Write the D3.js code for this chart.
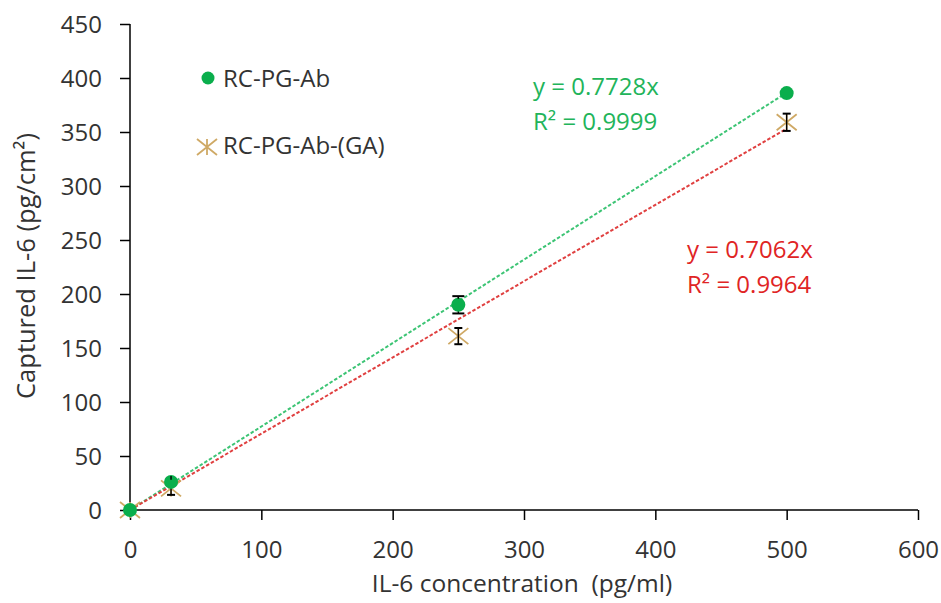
<!DOCTYPE html>
<html><head><meta charset="utf-8">
<script src="https://cdn.jsdelivr.net/npm/d3@7"></script>
<style>body{margin:0;background:#fff}svg{display:block}text{font-family:"Open Sans",sans-serif}</style>
</head><body>
<svg id="c" width="941" height="603"></svg>
<script>
const concentrations = [0, 31.25, 250, 500];
const seriesNames = ["RC-PG-Ab", "RC-PG-Ab-(GA)"];
const valuesAb = [0, 26, 190, 386];
const errorsAb = [0, 2, 8, 0];
const valuesGA = [0, 20, 161, 359];
const errorsGA = [0, 6, 7.5, 8];
const slopes = [0.7728, 0.7062];
const eqLabels = [["y = 0.7728x", "R² = 0.9999"], ["y = 0.7062x", "R² = 0.9964"]];
const xTicks = [0, 100, 200, 300, 400, 500, 600];
const yTicks = [0, 50, 100, 150, 200, 250, 300, 350, 400, 450];

const svg = d3.select("#c");
const x = d3.scaleLinear().domain([0, 600]).range([130, 918]);
const y = d3.scaleLinear().domain([0, 450]).range([510, 24]);
const textCol = "#333";

// axes
const xa = svg.append("g").attr("transform", "translate(0,510)")
  .call(d3.axisBottom(x).tickValues(xTicks).tickSize(10).tickSizeOuter(0));
const ya = svg.append("g").attr("transform", "translate(130,0)")
  .call(d3.axisLeft(y).tickValues(yTicks).tickSize(10).tickSizeOuter(0));
[xa, ya].forEach(a => {
  a.selectAll("path,line").attr("stroke", "#000").attr("stroke-width", 1.5);
  a.selectAll("text").attr("fill", textCol).style("font-size", "24px").style("font-family", '"Open Sans",sans-serif');
});
xa.selectAll(".tick text").attr("y", 48).attr("dy", null);
ya.selectAll(".tick text").attr("x", -28).attr("dy", "0.36em");
xa.select(".domain").attr("d", `M${x(0)},0H${x(600)}`);
ya.select(".domain").attr("d", `M0,${y(0)}V${y(450)}`);

svg.append("text").attr("x", 522).attr("y", 592).attr("text-anchor", "middle")
  .attr("fill", textCol).style("font-size", "24.5px").attr("xml:space", "preserve").text("IL-6 concentration  (pg/ml)");
svg.append("text").attr("transform", "translate(35,266) rotate(-90)").attr("text-anchor", "middle")
  .attr("fill", textCol).style("font-size", "25.5px").text("Captured IL-6 (pg/cm²)");

// trendlines
const trendColors = ["#3cc474", "#e04040"];
slopes.forEach((s, i) => {
  svg.append("line").attr("x1", x(0)).attr("y1", y(0)).attr("x2", x(500)).attr("y2", y(s * 500))
    .attr("stroke", trendColors[i]).attr("stroke-width", 2).attr("stroke-dasharray", "3.5,2");
});

// error bars
function errBars(vals, errs, w) {
  const g = svg.append("g").attr("stroke", "#000").attr("stroke-width", 1.4);
  concentrations.forEach((c, i) => {
    if (!errs[i]) return;
    const cx = x(c);
    g.append("line").attr("x1", cx).attr("x2", cx).attr("y1", y(vals[i] - errs[i])).attr("y2", y(vals[i] + errs[i]));
    [vals[i] - errs[i], vals[i] + errs[i]].forEach(v =>
      g.append("line").attr("x1", cx - w).attr("x2", cx + w).attr("y1", y(v)).attr("y2", y(v)).attr("stroke-width", 2));
  });
  return g;
}
const green = "#0aae4c", tan = "#cfa965";
function star(g, cx, cy) {
  const rx = 10, ry = 8;
  g.append("path").attr("d", `M${cx - rx},${cy - ry}L${cx + rx},${cy + ry}M${cx - rx},${cy + ry}L${cx + rx},${cy - ry}M${cx},${cy - ry}V${cy + ry}`)
    .attr("stroke", tan).attr("stroke-width", 1.8).attr("fill", "none");
}
// GA series
const gGA = svg.append("g");
concentrations.forEach((c, i) => star(gGA, x(c), y(valuesGA[i])));
errBars(valuesGA, errorsGA, 4);
// Ab series
errBars(valuesAb, errorsAb, 6);
svg.append("g").selectAll("circle").data(concentrations).join("circle")
  .attr("cx", d => x(d)).attr("cy", (d, i) => y(valuesAb[i])).attr("r", 7).attr("fill", green);
// top part of Ab error bar drawn over point
svg.append("g").attr("stroke", "#000").selectAll("line").data(concentrations.filter((c, i) => errorsAb[i])).join("line")
  .attr("x1", d => x(d)).attr("x2", d => x(d))
  .attr("y1", d => y(valuesAb[concentrations.indexOf(d)] + errorsAb[concentrations.indexOf(d)]))
  .attr("y2", d => y(valuesAb[concentrations.indexOf(d)]) - 6).attr("stroke-width", 1.4);

// legend
svg.append("circle").attr("cx", 208).attr("cy", 78).attr("r", 6.5).attr("fill", green);
svg.append("text").attr("x", 223).attr("y", 87).attr("fill", textCol).style("font-size", "24px").text(seriesNames[0]);
star(svg.append("g"), 207, 147);
svg.append("text").attr("x", 223).attr("y", 154).attr("fill", textCol).style("font-size", "24px").text(seriesNames[1]);

// equations
const eqPos = [[533, 95], [687, 258]];
const eqColors = ["#22b45a", "#e02424"];
eqLabels.forEach((lines, i) => {
  lines.forEach((t, j) => svg.append("text").attr("x", eqPos[i][0]).attr("y", eqPos[i][1] + j * 35)
    .attr("fill", eqColors[i]).style("font-size", "24px").text(t));
});
</script>
</body></html>
